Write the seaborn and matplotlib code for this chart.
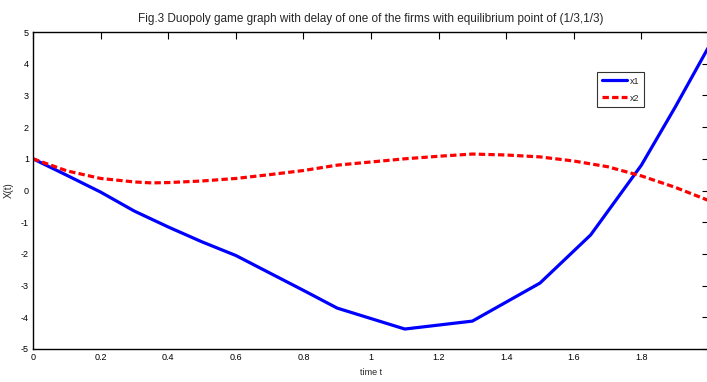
import matplotlib
matplotlib.use("Agg")
import matplotlib.pyplot as plt
from matplotlib import font_manager
import seaborn as sns
import pandas as pd

t_x1 = [0, 0.1, 0.2, 0.3, 0.4, 0.5, 0.6, 0.7, 0.8, 0.9, 1.1, 1.3, 1.5, 1.65, 1.8, 1.9, 2.0]
x1 = [1.0, 0.48, -0.05, -0.65, -1.15, -1.62, -2.05, -2.6, -3.15, -3.71, -4.37, -4.12, -2.92, -1.4, 0.8, 2.63, 4.55]
t_x2 = [0, 0.1, 0.2, 0.3, 0.35, 0.4, 0.5, 0.6, 0.7, 0.8, 0.9, 1.0, 1.1, 1.2, 1.3, 1.4, 1.5, 1.6, 1.7, 1.8, 1.9, 2.0]
x2 = [1.0, 0.62, 0.38, 0.27, 0.24, 0.25, 0.3, 0.38, 0.5, 0.63, 0.8, 0.9, 1.0, 1.08, 1.15, 1.12, 1.06, 0.93, 0.75, 0.46, 0.1, -0.32]
x_ticks = [0, 0.2, 0.4, 0.6, 0.8, 1, 1.2, 1.4, 1.6, 1.8]
x_tick_labels = ["0", "0.2", "0.4", "0.6", "0.8", "1", "1.2", "1.4", "1.6", "1.8"]
y_ticks = [-5, -4, -3, -2, -1, 0, 1, 2, 3, 4, 5]

title = "Fig.3 Duopoly game graph with delay of one of the firms with equilibrium point of (1/3,1/3)"

sns.set_style("white")
names = {f.name for f in font_manager.fontManager.ttflist}
fam = "Liberation Sans Narrow" if "Liberation Sans Narrow" in names else "Liberation Sans"
plt.rcParams["font.family"] = [fam, "DejaVu Sans"]
plt.rcParams["axes.unicode_minus"] = False

df1 = pd.DataFrame({"t": t_x1, "v": x1})
df2 = pd.DataFrame({"t": t_x2, "v": x2})

fig = plt.figure(figsize=(7.07, 3.82), dpi=100)
ax = fig.add_axes([33 / 707, 33 / 382, (709 - 33) / 707, (349 - 32) / 382])

sns.lineplot(data=df1, x="t", y="v", ax=ax, color="#0000ff", lw=2.3, label="x1")
sns.lineplot(data=df2, x="t", y="v", ax=ax, color="#ff0000", lw=2.3, label="x2",
             linestyle=(0, (2.0, 1.0)))

ax.set_xlim(0, 2)
ax.set_ylim(-5, 5)
ax.set_xticks(x_ticks)
ax.set_xticklabels(x_tick_labels)
ax.set_yticks(y_ticks)
ax.tick_params(direction="in", length=5, width=0.8, top=True, right=True,
               labelsize=6.5, colors="black", pad=3)
for s in ax.spines.values():
    s.set_visible(True)
    s.set_color("black")
    s.set_linewidth(1.0)
ax.set_xlabel("time t", fontsize=6.5, labelpad=4)
ax.set_ylabel("X(t)", fontsize=7, labelpad=5)
ax.set_title(title, fontsize=8.5, pad=7)

leg = ax.legend(loc="upper left", bbox_to_anchor=((597 - 33) / 676, (349 - 72) / 317),
                fontsize=6.5, frameon=True, fancybox=False, edgecolor="black",
                handlelength=2.8, handletextpad=0.3, borderpad=0.5, labelspacing=0.9,
                borderaxespad=0)
leg.get_frame().set_linewidth(0.8)

fig.savefig("out.png", dpi=100)
